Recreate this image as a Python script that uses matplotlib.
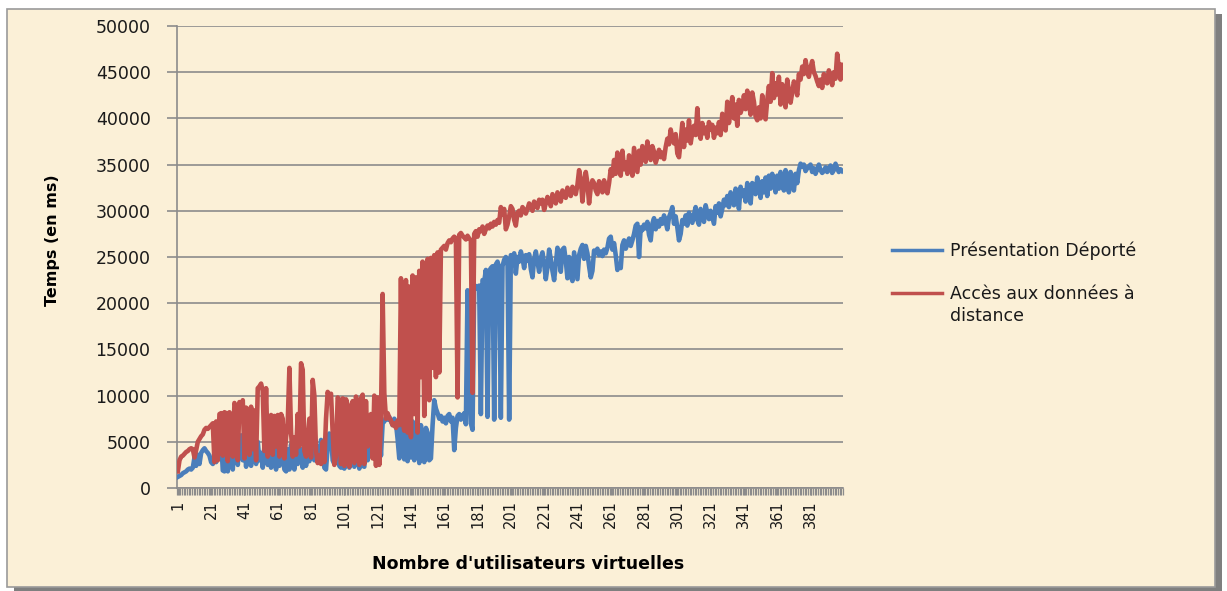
import matplotlib.pyplot as plt
import numpy as np
from matplotlib.patches import Rectangle

# temps de reponse (ms) par nombre d'utilisateurs virtuels
presentation_deporte = [
    1200, 1300, 1400, 1600, 1700, 1800, 2000, 2100, 2000, 2200,
    3300, 2400, 3600, 2600, 3800, 4100, 4300, 4000, 3800, 3500,
    2800, 2600, 3300, 2800, 3500, 4800, 5300, 1900, 1800, 5500,
    1800, 5600, 5800, 2000, 5500, 5900, 2500, 5400, 5700, 3000,
    5200, 2300, 4800, 3500, 2400, 5600, 4200, 2600, 5000, 3000,
    3800, 2200, 4500, 5200, 2500, 4800, 2200, 4600, 3200, 2000,
    5000, 2400, 4600, 3500, 2000, 1800, 4200, 2000, 4700, 3200,
    2000, 4800, 2600, 3600, 4200, 2200, 5000, 2400, 4800, 2900,
    4500, 4400, 3000, 4700, 3200, 2800, 5200, 4800, 2200, 2000,
    4500, 5900, 5600, 3000, 2600, 4000, 5800, 2400, 2200, 5600,
    2100, 5000, 5800, 2200, 4900, 5600, 2300, 5200, 4400, 2100,
    5500, 2400, 2300, 5800, 3000, 6000, 5200, 3600, 6200, 3300,
    6400, 6600, 3500, 7000, 7200, 7600, 7400, 7700, 7200, 6800,
    7500, 7000, 5300, 3200, 6800, 4400, 3100, 7000, 2900, 7500,
    3300, 7200, 3000, 6200, 7600, 2700, 6800, 4500, 2800, 6500,
    6000, 3000, 3200, 6800, 9500, 8600, 8100, 7500, 7800, 7200,
    7600, 7000, 7800, 8000, 7200, 7600, 4100, 6500, 7800, 8000,
    7400, 7800, 8100, 6900, 21400, 13000, 7000, 6300, 22000, 21600,
    21800, 21900, 8000, 22500, 22300, 23600, 7700, 23500, 23800, 24000,
    7400, 24200, 24500, 23800, 7600, 24000, 24700, 25000, 24600, 7400,
    25200, 24800, 25400, 23200, 25000, 24500, 25600, 24900, 23800, 25200,
    24600, 25300, 23700, 22800, 24800, 25600, 24500, 23400, 24900, 25500,
    24300, 22600, 23900, 25800, 24800, 23500, 22500, 24200, 26000, 25300,
    23400, 25800, 26000, 24600, 22700, 25000, 23000, 22400, 25500, 24000,
    22600, 25200, 25900, 26300, 24800, 26200, 25400, 24000, 22800, 23500,
    25700, 25400, 25900, 25200, 25600, 25100, 25800, 25400, 26000, 27000,
    27200, 25800, 26500, 25200, 23600, 24200, 23800, 26300, 26800, 25900,
    26400, 27000, 26200, 26800, 27500, 28400, 28600, 25000, 28200, 27900,
    28500, 28100, 28800, 27400, 26800, 28600, 29200, 28000, 28900, 28300,
    29100, 28600, 29500, 28800, 28000, 29300, 29800, 30400, 28600, 29400,
    28200, 26800, 27500, 29000, 28600, 29500, 28400, 29800, 29200, 28700,
    29600, 30400, 29000, 28500, 30200, 29400, 28800, 30600, 29800, 29100,
    30000, 29300, 28600, 30500, 29800, 30800, 29400, 30200, 31200, 30600,
    31600, 30400, 32000, 31400, 30600, 32400, 31800, 30200, 32600, 31600,
    32200, 31000, 33000, 32400, 30800, 33000, 32600, 31800, 33600, 32800,
    31400, 33200, 32000, 33600, 31600, 33800, 32400, 34000, 33200, 32000,
    33800, 32400, 34200, 33000, 32200, 34400, 33600, 32000, 34200, 33400,
    32200, 34000, 33000, 34400, 35100, 34800, 35000, 34300, 34600, 34800,
    35000, 34200, 34600, 34000, 34500, 35000, 34400, 34100, 34300, 34700,
    34200, 34500, 34900, 34100, 34400, 35100, 34600, 34200, 34500, 34300,
]

acces_donnees = [
    1800, 3000, 3400, 3500, 3700, 3900, 4000, 4200, 4300, 4200,
    3300, 4100, 5000, 5300, 5600, 5800, 6300, 6500, 6400, 6600,
    6800, 7000, 2800, 7200, 3000, 8000, 8100, 3500, 8200, 8100,
    2900, 8200, 7900, 3400, 9200, 8800, 3000, 9300, 7500, 9500,
    3200, 8700, 8500, 3600, 8800, 4200, 8400, 3000, 10800, 11000,
    11300, 10500, 4000, 10800, 3400, 5000, 7900, 3600, 7800, 4500,
    7900, 3400, 8000, 7500, 3200, 5500, 7000, 13000, 6000, 3400,
    5500, 3600, 8000, 4500, 13500, 12800, 4000, 3400, 5500, 7500,
    3300, 11700, 10000, 4000, 2700, 3500, 2600, 5000, 2800, 7500,
    10400, 9800, 10200, 6000, 2500, 3500, 9800, 9500, 2600, 9700,
    2400, 9600, 9000, 2300, 8500, 9400, 2700, 9900, 8600, 2500,
    9700, 10100, 2600, 9400, 4500, 7500, 8000, 3200, 10000, 2400,
    9800, 2500, 7500, 21000, 10300, 7500, 8100, 7600, 7300, 6800,
    7000, 6500, 7300, 6800, 22700, 7200, 6200, 22500, 6000, 21800,
    5500, 23000, 8000, 22800, 6000, 23500, 12000, 24500, 7800, 22000,
    24800, 9500, 24900, 13000, 25200, 12000, 25500, 12500, 25800, 26000,
    26200, 25800, 26500, 26800, 26600, 27000, 27200, 27000, 9800, 27400,
    27600, 27300, 27100, 26900, 27300, 27000, 26800, 10300, 27500, 27800,
    27200, 28000, 27800, 28300, 27500, 28000, 28400, 28100, 28600, 28300,
    28800, 28500, 29000, 28700, 30400, 29600, 30200, 28000, 28500, 29400,
    30500, 30200, 29000, 28400, 29800, 30000, 29500, 30400, 30100, 29700,
    30200, 30800, 30500, 30000, 31000, 30600, 30300, 31200, 30800, 31200,
    30100, 30800, 31500, 31000, 30500, 31800, 31300, 30800, 32000, 31600,
    31000, 32200, 31800, 31400, 32500, 32000, 31600, 32600, 32200, 31800,
    32800, 34400, 33500, 31000, 32800, 34200, 33000, 30800, 32500, 33300,
    33000, 32200, 31800, 33200, 32600, 32000, 33300, 32400, 31900, 33000,
    34500, 33800, 35500, 34000, 36300, 35000, 33800, 36500, 34500, 35200,
    34000, 36000, 35200, 33800, 36800, 35500, 34200, 36500, 35000, 37000,
    36000, 35300, 37500, 36200, 35500, 37000, 36400, 35200, 35800, 36600,
    35800, 36300, 35600, 36900, 37800, 37200, 38800, 37900, 37300, 38300,
    36200, 35800, 37500, 39500, 36900, 38800, 37600, 39800, 37300, 38500,
    39200, 38200, 41100, 38500, 37800, 39500, 38400, 39000, 37900, 39600,
    38800, 39300, 37900, 39000, 38400, 39600, 38200, 40500, 39200, 38700,
    41800, 39500, 40800, 42300, 40000, 41500, 39200, 42000, 40600, 41200,
    42500, 41000, 43000, 41600, 40400, 42800, 41800, 40200, 39800, 41200,
    40000, 42500, 41000, 39900, 42000, 43500, 41800, 44900, 42200, 43800,
    42600, 44500, 41500, 43700, 42500, 41200, 44200, 43000, 41700, 42800,
    44000, 43400, 42500, 44800, 44200, 45600, 44800, 46300, 45200, 44500,
    45500, 46200, 45000, 44600, 44000, 43500, 44200, 43300, 44800, 44000,
    43800, 45200, 44500, 43600, 45000, 44300, 47000, 45400, 44200, 45800,
]

x_labels = list(range(1, 400, 20))
y_ticks = list(range(0, 50001, 5000))

W, H = 1227, 591
fig = plt.figure(figsize=(W / 100, H / 100), dpi=100)
fig.patch.set_facecolor('white')

# fond "parchemin" + ombre (sous les axes)
fig.patches.append(Rectangle((14 / W, 0), 1208 / W, 1 - 14 / H, transform=fig.transFigure,
                             facecolor='#7f7f7f', edgecolor='none', zorder=-3))
fig.patches.append(Rectangle((7 / W, 4 / H), 1208 / W, 578 / H, transform=fig.transFigure,
                             facecolor='#fbf0d7', edgecolor='#9a9a9a', linewidth=1.2, zorder=-2))

ax = fig.add_axes([177 / W, 1 - 488 / H, 666 / W, 462 / H])
ax.set_facecolor('none')

blue = '#4a7ebb'
red = '#c0504d'
xb = np.arange(1, len(presentation_deporte) + 1)
xr = np.arange(1, len(acces_donnees) + 1)
ax.plot(xb, presentation_deporte, color=blue, lw=3.3, solid_joinstyle='round',
        label='Présentation Déporté', zorder=3)
ax.plot(xr, acces_donnees, color=red, lw=3.3, solid_joinstyle='round',
        label='Accès aux données à', zorder=4)

ax.set_xlim(0.5, 400.5)
ax.set_ylim(0, 50000)
ax.set_yticks(y_ticks)
ax.set_yticklabels([str(v) for v in y_ticks])
ax.grid(axis='y', color='#8c8c8c', lw=1.2, zorder=1)
ax.set_axisbelow(True)

ax.set_xticks(x_labels)
ax.set_xticklabels([str(v) for v in x_labels], rotation=90)
ax.set_xticks(np.arange(0.5, 401, 1), minor=True)

for s in ['top', 'right']:
    ax.spines[s].set_visible(False)
for s in ['left', 'bottom']:
    ax.spines[s].set_color('#8c8c8c')
    ax.spines[s].set_linewidth(1.2)

ax.tick_params(axis='y', length=7, width=1.2, color='#8c8c8c', pad=12,
               labelsize=12.5, labelcolor='#1a1a1a')
ax.tick_params(axis='x', which='both', length=5, width=0.9, color='#8c8c8c',
               pad=4, labelsize=10.5, labelcolor='#1a1a1a')

ax.set_ylabel('Temps (en ms)', fontsize=11.5, fontweight='bold')
ax.yaxis.set_label_coords(-0.175, 0.537)
ax.set_xlabel("Nombre d'utilisateurs virtuelles", fontsize=12.5, fontweight='bold')
ax.xaxis.set_label_coords(0.527, -0.145)

leg = ax.legend(loc='upper left', bbox_to_anchor=(1.05, 0.568), frameon=False,
                fontsize=12.5, handlelength=2.9, handletextpad=0.45, labelspacing=1.45)
for h in leg.legend_handles:
    h.set_linewidth(2.5)
for t in leg.get_texts():
    t.set_color('#1a1a1a')

# seconde ligne du libelle rouge, alignee sous la premiere
fig.canvas.draw()
bb = leg.get_texts()[1].get_window_extent()
fig.text(bb.x0 / W, (bb.y0 - 4) / H, 'distance', fontsize=12.5, color='#1a1a1a',
         ha='left', va='top')

fig.savefig('out.png', dpi=100, facecolor=fig.get_facecolor())
